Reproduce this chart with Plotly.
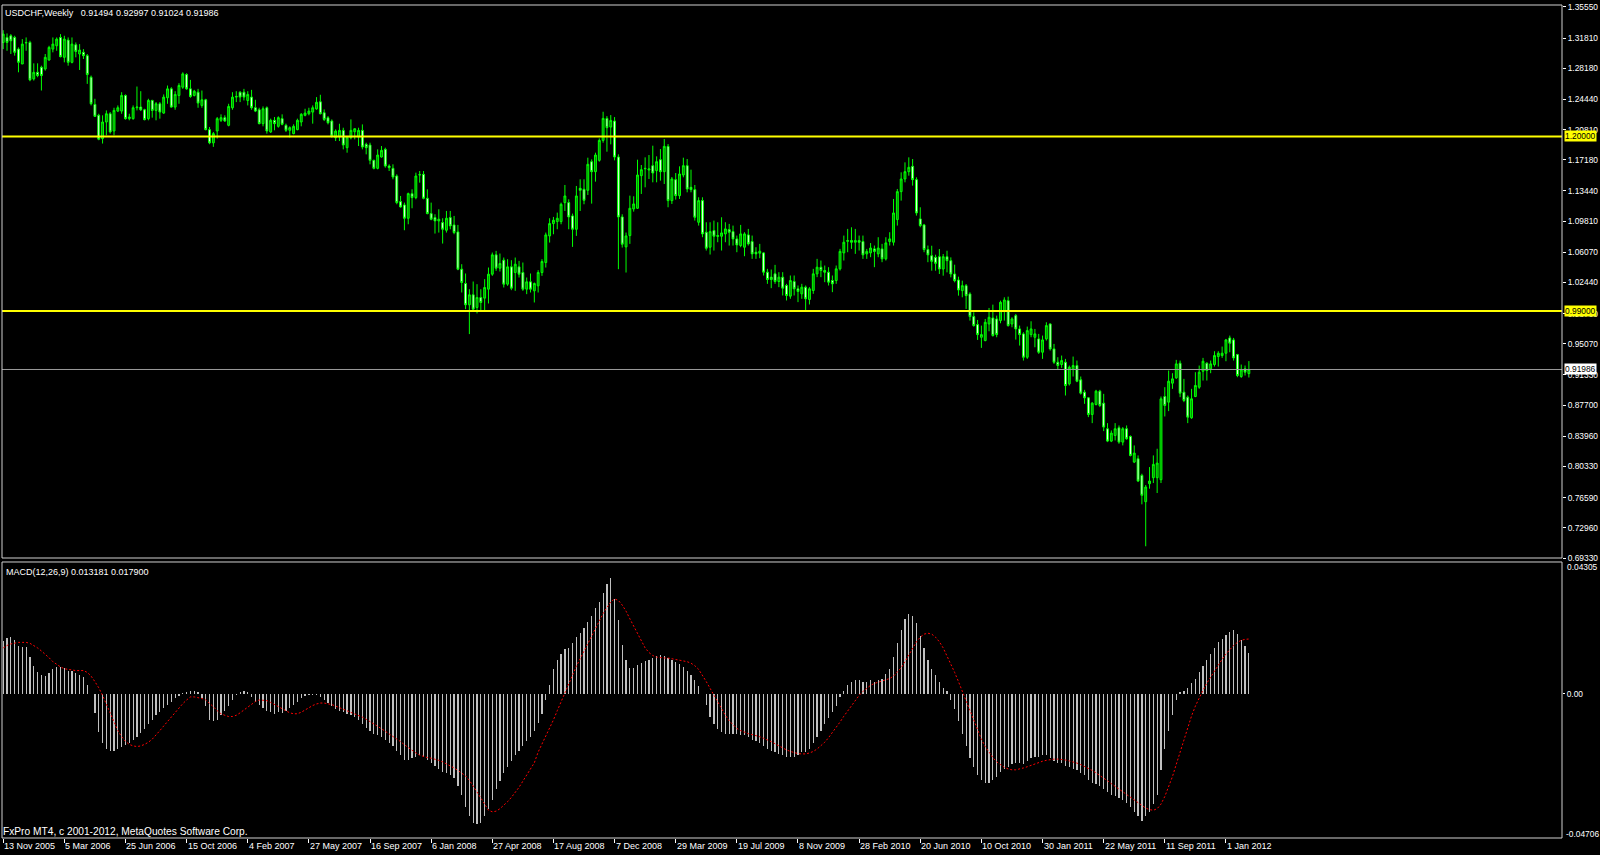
import plotly.graph_objects as go

# ---------------- data (weekly USDCHF, bar 0 = week of 13 Nov 2005) ----------------
OPEN = [
1.3129,1.3189,1.3209,1.3189,1.3049,1.2870,1.3129,1.3129,1.2691,1.2770,
1.2830,1.2810,1.2918,1.3049,1.3089,1.3189,1.2950,1.3157,1.2890,1.3101,
1.2990,1.3010,1.2970,1.2711,1.2384,1.2253,1.1974,1.2173,1.2272,1.2065,
1.2304,1.2304,1.2492,1.2213,1.2213,1.2344,1.2352,1.2320,1.2213,1.2432,
1.2312,1.2392,1.2280,1.2464,1.2571,1.2352,1.2492,1.2591,1.2743,1.2571,
1.2492,1.2531,1.2372,1.2440,1.2081,1.1922,1.2065,1.2193,1.2225,1.2133,
1.2344,1.2472,1.2531,1.2531,1.2432,1.2472,1.2344,1.2320,1.2153,1.2344,
1.2053,1.2193,1.2121,1.2213,1.2133,1.2073,1.2033,1.2081,1.2173,1.2253,
1.2272,1.2292,1.2330,1.2416,1.2284,1.2224,1.2184,1.1984,1.1992,1.2072,
1.1864,1.1984,1.2056,1.1992,1.2072,1.1904,1.1896,1.1712,1.1616,1.1752,
1.1844,1.1644,1.1616,1.1524,1.1216,1.1176,1.1016,1.1312,1.1264,1.1536,
1.1544,1.1256,1.1072,1.1024,1.0984,1.0964,1.0872,1.1024,1.0936,1.0852,
1.0404,1.0232,0.9976,1.0096,0.9944,1.0064,1.0056,1.0164,1.0344,1.0576,
1.0416,1.0512,1.0224,1.0432,1.0364,1.0432,1.0364,1.0164,1.0252,1.0144,
1.0204,1.0364,1.0484,1.0804,1.0952,1.0976,1.0976,1.1204,1.1204,1.1044,
1.0884,1.1376,1.1364,1.1352,1.1696,1.1576,1.1712,1.1952,1.2216,1.2112,
1.2184,1.1752,1.1032,1.0672,1.0808,1.1128,1.1136,1.1528,1.1616,1.1596,
1.1648,1.1588,1.1720,1.1576,1.1880,1.1228,1.1480,1.1288,1.1536,1.1648,
1.1388,1.1360,1.0968,1.1228,1.0848,1.0668,1.0868,1.0808,1.0800,1.0828,
1.0880,1.0856,1.0768,1.0688,1.0668,1.0816,1.0736,1.0608,1.0596,1.0600,
1.0368,1.0308,1.0348,1.0256,1.0308,1.0208,1.0080,1.0256,1.0168,1.0108,
1.0188,1.0040,1.0148,1.0348,1.0428,1.0388,1.0368,1.0268,1.0268,1.0408,
1.0600,1.0738,1.0748,1.0728,1.0748,1.0736,1.0588,1.0600,1.0648,1.0588,
1.0648,1.0528,1.0736,1.0728,1.1000,1.1336,1.1488,1.1576,1.1640,1.1480,
1.1008,1.0936,1.0640,1.0566,1.0546,1.0554,1.0406,1.0554,1.0506,1.0346,
1.0274,1.0146,1.0206,1.0106,0.9834,0.9738,0.9586,0.9546,0.9746,0.9818,
0.9806,0.9786,0.9906,1.0026,0.9746,0.9846,0.9686,0.9626,0.9346,0.9618,
0.9586,0.9566,0.9406,0.9566,0.9746,0.9446,0.9286,0.9258,0.9286,0.9026,
0.9206,0.9246,0.9074,0.8926,0.8858,0.8658,0.8778,0.8938,0.8794,0.8486,
0.8338,0.8406,0.8498,0.8326,0.8486,0.8394,0.8086,0.8126,0.7926,0.7610,
0.7826,0.7898,0.7898,0.7874,0.8874,0.8806,0.9034,0.9098,0.9274,0.8926,
0.8866,0.8618,0.8874,0.8986,0.9178,0.9274,0.9206,0.9258,0.9354,0.9366,
0.9394,0.9578,0.9554,0.9378,0.9114,0.9206,0.91494]
HIGH = [
1.3276,1.3237,1.3229,1.3209,1.3069,1.3169,1.3189,1.3149,1.2878,1.2878,
1.2850,1.2990,1.3089,1.3189,1.3189,1.3229,1.3209,1.3189,1.3189,1.3129,
1.3109,1.3049,1.2990,1.2731,1.2452,1.2272,1.2253,1.2312,1.2292,1.2344,
1.2372,1.2531,1.2504,1.2272,1.2372,1.2599,1.2543,1.2332,1.2452,1.2440,
1.2412,1.2412,1.2504,1.2611,1.2591,1.2543,1.2639,1.2770,1.2759,1.2679,
1.2559,1.2571,1.2551,1.2452,1.2113,1.2053,1.2233,1.2265,1.2253,1.2392,
1.2531,1.2543,1.2543,1.2571,1.2543,1.2559,1.2440,1.2344,1.2360,1.2360,
1.2213,1.2233,1.2241,1.2265,1.2153,1.2121,1.2145,1.2213,1.2280,1.2332,
1.2344,1.2372,1.2472,1.2500,1.2324,1.2244,1.2204,1.2084,1.2152,1.2104,
1.2004,1.2204,1.2096,1.2104,1.2144,1.1924,1.1924,1.1720,1.1844,1.1884,
1.1864,1.1664,1.1664,1.1544,1.1284,1.1204,1.1324,1.1364,1.1564,1.1584,
1.1584,1.1364,1.1204,1.1064,1.1124,1.1016,1.1104,1.1104,1.1044,1.0936,
1.0464,1.0352,1.0164,1.0256,1.0224,1.0164,1.0284,1.0424,1.0604,1.0624,
1.0592,1.0544,1.0524,1.0512,1.0544,1.0504,1.0484,1.0304,1.0352,1.0244,
1.0392,1.0524,1.0844,1.1016,1.1032,1.1084,1.1204,1.1416,1.1244,1.1072,
1.1404,1.1484,1.1484,1.1744,1.1724,1.1804,1.1976,1.2296,1.2244,1.2256,
1.2232,1.1784,1.1064,1.0844,1.1288,1.1280,1.1720,1.1656,1.1748,1.1776,
1.1888,1.1760,1.1848,1.1968,1.1908,1.1512,1.1560,1.1640,1.1744,1.1728,
1.1600,1.1416,1.1268,1.1268,1.0968,1.0968,1.0988,1.0968,1.1028,1.0968,
1.0948,1.0928,1.0808,1.0936,1.0848,1.0888,1.0808,1.0668,1.0708,1.0608,
1.0408,1.0400,1.0456,1.0368,1.0368,1.0228,1.0328,1.0328,1.0208,1.0228,
1.0208,1.0188,1.0408,1.0528,1.0508,1.0448,1.0428,1.0328,1.0448,1.0648,
1.0808,1.0888,1.0908,1.0888,1.0808,1.0808,1.0648,1.0718,1.0688,1.0788,
1.0708,1.0788,1.0848,1.1248,1.1368,1.1568,1.1688,1.1748,1.1728,1.1508,
1.1148,1.0948,1.0688,1.0686,1.0578,1.0646,1.0586,1.0626,1.0546,1.0458,
1.0314,1.0266,1.0226,1.0126,0.9886,0.9794,0.9726,0.9806,0.9938,0.9978,
0.9846,1.0026,1.0066,1.0074,0.9826,0.9866,0.9726,0.9646,0.9714,0.9778,
0.9686,0.9626,0.9606,0.9766,0.9754,0.9506,0.9346,0.9366,0.9326,0.9246,
0.9354,0.9306,0.9114,0.8954,0.8866,0.8806,0.8954,0.8954,0.8906,0.8554,
0.8466,0.8554,0.8526,0.8506,0.8526,0.8406,0.8286,0.8166,0.7946,0.7810,
0.8026,0.8166,0.8246,0.8874,0.8986,0.9186,0.9154,0.9314,0.9306,0.9086,
0.8886,0.8966,0.9166,0.9246,0.9338,0.9286,0.9306,0.9418,0.9418,0.9474,
0.9566,0.9606,0.9578,0.9386,0.9258,0.9246,0.92997]
LOW = [
1.3049,1.3029,1.2990,1.2970,1.2770,1.2870,1.3029,1.2663,1.2671,1.2711,
1.2551,1.2790,1.2910,1.3010,1.3029,1.2950,1.2890,1.2850,1.2878,1.2950,
1.2798,1.2930,1.2631,1.2372,1.2233,1.1954,1.1914,1.2013,1.2033,1.2013,
1.2292,1.2272,1.2201,1.2193,1.2201,1.2312,1.2304,1.2193,1.2193,1.2225,
1.2193,1.2213,1.2272,1.2392,1.2344,1.2320,1.2392,1.2571,1.2559,1.2464,
1.2480,1.2344,1.2344,1.2073,1.1906,1.1874,1.1974,1.2173,1.2173,1.2121,
1.2320,1.2412,1.2412,1.2432,1.2372,1.2320,1.2292,1.2145,1.2121,1.2033,
1.2041,1.2073,1.2105,1.2133,1.2053,1.1986,1.2025,1.2073,1.2121,1.2241,
1.2253,1.2153,1.2320,1.2264,1.2184,1.2144,1.1984,1.1944,1.1944,1.1844,
1.1804,1.1964,1.1964,1.1884,1.1844,1.1784,1.1664,1.1604,1.1604,1.1744,
1.1624,1.1584,1.1484,1.1184,1.1144,1.0872,1.0944,1.1136,1.1244,1.1444,
1.1244,1.1064,1.0992,1.0832,1.0844,1.0712,1.0844,1.0884,1.0824,1.0392,
1.0124,0.9924,0.9624,0.9896,0.9872,0.9896,0.9912,0.9992,1.0324,1.0384,
1.0376,1.0184,1.0204,1.0152,1.0144,1.0304,1.0144,1.0104,1.0124,1.0004,
1.0124,1.0324,1.0424,1.0724,1.0824,1.0884,1.0944,1.1104,1.0884,1.0672,
1.0804,1.1104,1.1184,1.1296,1.1192,1.1456,1.1696,1.1924,1.1816,1.1904,
1.1712,1.0404,1.0664,1.0364,1.0708,1.1096,1.1128,1.1308,1.1388,1.1488,
1.1448,1.1448,1.1468,1.1428,1.1148,1.1188,1.1240,1.1248,1.1508,1.1328,
1.1328,1.0988,1.0928,1.0788,1.0628,1.0580,1.0628,1.0728,1.0628,1.0728,
1.0688,1.0688,1.0608,1.0668,1.0560,1.0688,1.0528,1.0528,1.0536,1.0328,
1.0228,1.0176,1.0228,1.0188,1.0088,1.0028,1.0048,1.0088,1.0008,1.0048,
0.9908,0.9980,1.0108,1.0308,1.0308,1.0248,1.0208,1.0128,1.0228,1.0388,
1.0508,1.0608,1.0648,1.0588,1.0628,1.0528,1.0528,1.0548,1.0428,1.0548,
1.0488,1.0508,1.0688,1.0688,1.0928,1.1228,1.1448,1.1528,1.1408,1.1048,
1.0908,1.0608,1.0488,1.0386,1.0386,1.0346,1.0326,1.0366,1.0306,1.0246,
1.0086,1.0066,0.9926,0.9786,0.9714,0.9554,0.9458,0.9538,0.9658,0.9594,
0.9586,0.9754,0.9786,0.9714,0.9706,0.9558,0.9486,0.9306,0.9326,0.9586,
0.9466,0.9386,0.9326,0.9546,0.9426,0.9266,0.9194,0.9218,0.8886,0.9006,
0.9114,0.9046,0.8898,0.8786,0.8626,0.8554,0.8766,0.8746,0.8458,0.8326,
0.8326,0.8346,0.8306,0.8286,0.8354,0.8154,0.8074,0.7846,0.7578,0.7074,
0.7766,0.7834,0.7714,0.7834,0.8634,0.8698,0.8966,0.9086,0.8866,0.8806,
0.8554,0.8606,0.8866,0.8966,0.9066,0.9066,0.9154,0.9234,0.9234,0.9338,
0.9298,0.9406,0.9306,0.9106,0.9098,0.9126,0.91024]
CLOSE = [
1.3229,1.3129,1.3149,1.3010,1.2890,1.3109,1.3125,1.2679,1.2770,1.2731,
1.2731,1.2950,1.3069,1.3109,1.3169,1.2958,1.3169,1.2890,1.3109,1.3021,
1.3037,1.2970,1.2743,1.2392,1.2241,1.1966,1.2173,1.2272,1.2053,1.2312,
1.2344,1.2492,1.2213,1.2233,1.2344,1.2352,1.2320,1.2201,1.2432,1.2312,
1.2392,1.2292,1.2472,1.2571,1.2352,1.2504,1.2611,1.2751,1.2571,1.2480,
1.2543,1.2400,1.2440,1.2081,1.1922,1.2033,1.2213,1.2225,1.2185,1.2360,
1.2472,1.2480,1.2472,1.2472,1.2504,1.2344,1.2304,1.2153,1.2332,1.2065,
1.2193,1.2153,1.2225,1.2145,1.2073,1.2105,1.2121,1.2193,1.2265,1.2280,
1.2304,1.2344,1.2410,1.2272,1.2204,1.2164,1.2004,1.2064,1.2072,1.1896,
1.1992,1.2072,1.2092,1.2072,1.1872,1.1864,1.1712,1.1616,1.1776,1.1832,
1.1644,1.1624,1.1512,1.1204,1.1152,1.1016,1.1312,1.1264,1.1524,1.1540,
1.1256,1.1072,1.1004,1.0984,1.1004,1.0884,1.1016,1.0924,1.0844,1.0404,
1.0244,0.9976,1.0096,0.9924,1.0064,1.0004,1.0184,1.0344,1.0576,1.0416,
1.0472,1.0224,1.0432,1.0176,1.0464,1.0344,1.0164,1.0252,1.0164,1.0232,
1.0364,1.0496,1.0816,1.0952,1.0992,1.1016,1.1184,1.1284,1.1032,1.0884,
1.1284,1.1352,1.1232,1.1664,1.1576,1.1776,1.1952,1.2216,1.2104,1.2192,
1.1752,1.1032,1.0704,1.0804,1.1136,1.1188,1.1536,1.1600,1.1612,1.1608,
1.1560,1.1696,1.1576,1.1880,1.1228,1.1488,1.1288,1.1548,1.1648,1.1368,
1.1360,1.1028,1.1228,1.0828,1.0656,1.0856,1.0800,1.0800,1.0840,1.0888,
1.0848,1.0768,1.0696,1.0828,1.0828,1.0708,1.0588,1.0588,1.0620,1.0368,
1.0280,1.0280,1.0256,1.0308,1.0176,1.0088,1.0268,1.0168,1.0136,1.0188,
1.0048,1.0168,1.0348,1.0428,1.0388,1.0368,1.0248,1.0228,1.0408,1.0618,
1.0728,1.0748,1.0728,1.0748,1.0728,1.0576,1.0618,1.0658,1.0618,1.0658,
1.0528,1.0720,1.0768,1.1080,1.1336,1.1488,1.1576,1.1628,1.1480,1.1080,
1.0928,1.0640,1.0576,1.0498,1.0474,1.0406,1.0554,1.0506,1.0346,1.0266,
1.0154,1.0206,1.0086,0.9834,0.9726,0.9618,0.9618,0.9766,0.9826,0.9606,
0.9618,1.0006,1.0034,0.9726,0.9806,0.9686,0.9618,0.9346,0.9666,0.9686,
0.9626,0.9406,0.9554,0.9726,0.9446,0.9286,0.9246,0.9306,0.9006,0.9226,
0.9246,0.9058,0.8914,0.8858,0.8658,0.8794,0.8938,0.8766,0.8506,0.8338,
0.8434,0.8486,0.8326,0.8486,0.8366,0.8166,0.8194,0.7858,0.7686,0.7786,
0.7858,0.8058,0.8074,0.8846,0.8766,0.9058,0.9086,0.9266,0.8914,0.8826,
0.8626,0.8846,0.9006,0.9166,0.9298,0.9186,0.9266,0.9366,0.9394,0.9394,
0.9554,0.9514,0.9338,0.9126,0.9194,0.9166,0.91986]

MACD_MAIN = [
0.0173,0.0182,0.0184,0.0177,0.0157,0.0154,0.0154,0.0119,0.0092,0.0070,
0.0062,0.0059,0.0068,0.0081,0.0089,0.0087,0.0085,0.0073,0.0076,0.0068,
0.0063,0.0056,0.0030,0.0000,-0.0063,-0.0125,-0.0160,-0.0180,-0.0188,-0.0185,
-0.0180,-0.0175,-0.0168,-0.0160,-0.0150,-0.0140,-0.0128,-0.0115,-0.0100,-0.0085,
-0.0070,-0.0058,-0.0045,-0.0035,-0.0025,-0.0015,-0.0008,0.0003,0.0005,0.0008,
0.0010,0.0005,-0.0015,-0.0040,-0.0085,-0.0090,-0.0085,-0.0070,-0.0055,-0.0040,
-0.0020,-0.0005,0.0005,0.0008,0.0005,-0.0010,-0.0025,-0.0035,-0.0045,-0.0055,
-0.0060,-0.0065,-0.0060,-0.0062,-0.0055,-0.0045,-0.0035,-0.0025,-0.0015,-0.0008,
-0.0005,-0.0003,-0.0005,-0.0010,-0.0020,-0.0030,-0.0040,-0.0050,-0.0055,-0.0060,
-0.0065,-0.0070,-0.0075,-0.0085,-0.0100,-0.0110,-0.0120,-0.0130,-0.0135,-0.0140,
-0.0150,-0.0160,-0.0170,-0.0185,-0.0200,-0.0215,-0.0215,-0.0210,-0.0205,-0.0200,
-0.0205,-0.0215,-0.0225,-0.0235,-0.0245,-0.0255,-0.0260,-0.0265,-0.0275,-0.0300,
-0.0330,-0.0370,-0.0400,-0.0420,-0.0425,-0.0420,-0.0400,-0.0375,-0.0345,-0.0310,
-0.0285,-0.0260,-0.0240,-0.0220,-0.0200,-0.0185,-0.0170,-0.0155,-0.0140,-0.0120,
-0.0095,-0.0065,-0.0020,0.0030,0.0080,0.0110,0.0130,0.0145,0.0150,0.0165,
0.0185,0.0200,0.0215,0.0235,0.0255,0.0280,0.0300,0.0330,0.0360,0.0377,
0.0310,0.0240,0.0160,0.0110,0.0085,0.0085,0.0095,0.0100,0.0108,0.0112,
0.0118,0.0122,0.0128,0.0125,0.0118,0.0112,0.0105,0.0098,0.0088,0.0075,
0.0062,0.0045,0.0025,0.0000,-0.0035,-0.0075,-0.0100,-0.0115,-0.0125,-0.0130,
-0.0130,-0.0130,-0.0132,-0.0135,-0.0135,-0.0140,-0.0150,-0.0155,-0.0160,-0.0170,
-0.0180,-0.0185,-0.0190,-0.0195,-0.0200,-0.0205,-0.0205,-0.0205,-0.0200,-0.0190,
-0.0190,-0.0180,-0.0160,-0.0140,-0.0120,-0.0100,-0.0080,-0.0060,-0.0040,-0.0010,
0.0010,0.0030,0.0040,0.0045,0.0045,0.0040,0.0040,0.0045,0.0040,0.0045,
0.0050,0.0065,0.0080,0.0120,0.0165,0.0210,0.0245,0.0262,0.0255,0.0230,
0.0190,0.0150,0.0110,0.0080,0.0060,0.0040,0.0020,0.0010,-0.0020,-0.0050,
-0.0090,-0.0130,-0.0170,-0.0210,-0.0240,-0.0265,-0.0280,-0.0290,-0.0290,-0.0280,
-0.0270,-0.0255,-0.0245,-0.0240,-0.0230,-0.0225,-0.0225,-0.0230,-0.0220,-0.0210,
-0.0205,-0.0205,-0.0200,-0.0200,-0.0210,-0.0220,-0.0225,-0.0225,-0.0235,-0.0240,
-0.0245,-0.0250,-0.0260,-0.0265,-0.0280,-0.0290,-0.0295,-0.0300,-0.0310,-0.0320,
-0.0330,-0.0335,-0.0340,-0.0345,-0.0355,-0.0370,-0.0385,-0.0400,-0.0415,-0.0400,
-0.0385,-0.0360,-0.0330,-0.0250,-0.0180,-0.0120,-0.0070,-0.0020,0.0005,0.0010,
0.0020,0.0035,0.0050,0.0070,0.0090,0.0110,0.0130,0.0150,0.0168,0.0180,
0.0192,0.0203,0.0208,0.0195,0.0175,0.0155,0.013181]
MACD_SIGNAL = [
0.0150,0.0158,0.0163,0.0166,0.0168,0.0168,0.0168,0.0165,0.0158,0.0150,
0.0140,0.0130,0.0118,0.0105,0.0095,0.0088,0.0082,0.0080,0.0077,0.0076,
0.0076,0.0076,0.0070,0.0058,0.0040,0.0020,-0.0005,-0.0035,-0.0065,-0.0095,
-0.0120,-0.0140,-0.0155,-0.0165,-0.0170,-0.0172,-0.0170,-0.0165,-0.0158,-0.0148,
-0.0135,-0.0120,-0.0105,-0.0090,-0.0075,-0.0060,-0.0045,-0.0032,-0.0020,-0.0010,
-0.0010,-0.0012,-0.0015,-0.0020,-0.0030,-0.0042,-0.0055,-0.0065,-0.0070,-0.0074,
-0.0074,-0.0070,-0.0062,-0.0052,-0.0042,-0.0032,-0.0025,-0.0020,-0.0020,-0.0022,
-0.0028,-0.0035,-0.0042,-0.0050,-0.0057,-0.0062,-0.0065,-0.0065,-0.0060,-0.0052,
-0.0045,-0.0038,-0.0033,-0.0030,-0.0030,-0.0032,-0.0035,-0.0040,-0.0045,-0.0050,
-0.0055,-0.0060,-0.0065,-0.0070,-0.0076,-0.0083,-0.0090,-0.0098,-0.0106,-0.0114,
-0.0122,-0.0130,-0.0138,-0.0147,-0.0156,-0.0166,-0.0176,-0.0185,-0.0193,-0.0200,
-0.0205,-0.0208,-0.0210,-0.0213,-0.0217,-0.0222,-0.0228,-0.0235,-0.0242,-0.0250,
-0.0258,-0.0268,-0.0282,-0.0300,-0.0320,-0.0340,-0.0360,-0.0380,-0.0385,-0.0383,
-0.0375,-0.0365,-0.0352,-0.0338,-0.0322,-0.0305,-0.0285,-0.0265,-0.0245,-0.0225,
-0.0190,-0.0165,-0.0140,-0.0115,-0.0085,-0.0055,-0.0025,0.0005,0.0035,0.0065,
0.0090,0.0115,0.0140,0.0165,0.0190,0.0215,0.0240,0.0262,0.0282,0.0300,
0.0310,0.0305,0.0290,0.0270,0.0245,0.0220,0.0195,0.0170,0.0150,0.0135,
0.0125,0.0120,0.0118,0.0117,0.0117,0.0115,0.0112,0.0110,0.0108,0.0105,
0.0100,0.0092,0.0080,0.0062,0.0040,0.0018,-0.0005,-0.0028,-0.0050,-0.0070,
-0.0088,-0.0102,-0.0113,-0.0120,-0.0126,-0.0130,-0.0133,-0.0136,-0.0140,-0.0145,
-0.0150,-0.0156,-0.0163,-0.0170,-0.0177,-0.0183,-0.0188,-0.0192,-0.0195,-0.0196,
-0.0196,-0.0193,-0.0188,-0.0180,-0.0170,-0.0158,-0.0143,-0.0127,-0.0110,-0.0092,
-0.0073,-0.0055,-0.0037,-0.0020,-0.0005,0.0008,0.0018,0.0028,0.0034,0.0038,
0.0042,0.0045,0.0050,0.0058,0.0070,0.0085,0.0105,0.0128,0.0150,0.0170,
0.0185,0.0195,0.0198,0.0195,0.0185,0.0170,0.0150,0.0125,0.0098,0.0070,
0.0040,0.0008,-0.0025,-0.0058,-0.0090,-0.0120,-0.0148,-0.0172,-0.0192,-0.0208,
-0.0222,-0.0232,-0.0240,-0.0245,-0.0248,-0.0248,-0.0246,-0.0242,-0.0238,-0.0233,
-0.0228,-0.0224,-0.0220,-0.0217,-0.0214,-0.0213,-0.0213,-0.0214,-0.0216,-0.0219,
-0.0222,-0.0226,-0.0231,-0.0237,-0.0243,-0.0250,-0.0258,-0.0266,-0.0275,-0.0284,
-0.0293,-0.0302,-0.0311,-0.0320,-0.0328,-0.0336,-0.0345,-0.0355,-0.0365,-0.0373,
-0.0378,-0.0380,-0.0375,-0.0360,-0.0335,-0.0305,-0.0270,-0.0230,-0.0190,-0.0150,
-0.0110,-0.0072,-0.0040,-0.0012,0.0012,0.0035,0.0055,0.0075,0.0095,0.0113,
0.0130,0.0145,0.0158,0.0168,0.0175,0.0178,0.017900]

DATE_TICK_BARS = [0, 16, 32, 48, 64, 80, 96, 112, 128, 144, 160, 176, 192, 208, 224, 240, 256, 272, 288, 304, 320]
DATE_LABELS = ["13 Nov 2005", "5 Mar 2006", "25 Jun 2006", "15 Oct 2006", "4 Feb 2007", "27 May 2007",
               "16 Sep 2007", "6 Jan 2008", "27 Apr 2008", "17 Aug 2008", "7 Dec 2008", "29 Mar 2009",
               "19 Jul 2009", "8 Nov 2009", "28 Feb 2010", "20 Jun 2010", "10 Oct 2010", "30 Jan 2011",
               "22 May 2011", "11 Sep 2011", "1 Jan 2012"]
PRICE_TICKS = [1.35550, 1.31810, 1.28180, 1.24440, 1.20810, 1.17180, 1.13440, 1.09810, 1.06070,
               1.02440, 0.98700, 0.95070, 0.91330, 0.87700, 0.83960, 0.80330, 0.76590, 0.72960, 0.69330]
HLINE_LEVELS = [1.20000, 0.99000]
LAST_CLOSE = 0.91986
MACD_MAX, MACD_MIN = 0.04305, -0.04706
SYMBOL_TITLE = "USDCHF,Weekly"
MACD_TITLE = "MACD(12,26,9) 0.013181 0.017900"
FOOTER = "FxPro MT4, c 2001-2012, MetaQuotes Software Corp."

# ---------------- figure ----------------
W, H = 1600, 855
ML, MR, MT, MB = 2, 36, 2, 17
PLOT_H = H - MT - MB
def py(pix):  # pixel row -> paper y
    return (H - MB - pix) / PLOT_H

FONT = "Liberation Sans, Arial, sans-serif"
FG = "#ffffff"
AX = 8.4
bars = list(range(len(CLOSE)))

fig = go.Figure()
fig.add_trace(go.Candlestick(
    x=bars, open=OPEN, high=HIGH, low=LOW, close=CLOSE, xaxis="x", yaxis="y",
    increasing=dict(line=dict(color="#00ff00", width=1), fillcolor="#008c00"),
    decreasing=dict(line=dict(color="#00ff00", width=1), fillcolor="#ffffff"),
    whiskerwidth=0, hoverinfo="skip", showlegend=False))
fig.add_trace(go.Bar(
    x=bars, y=MACD_MAIN, xaxis="x", yaxis="y2", width=0.32,
    marker=dict(color="#c0c0c0", line=dict(width=0)), hoverinfo="skip", showlegend=False))
fig.add_trace(go.Scatter(
    x=bars, y=MACD_SIGNAL, xaxis="x", yaxis="y2", mode="lines",
    line=dict(color="#ff0000", width=1, dash="2px,2px"), hoverinfo="skip", showlegend=False))

main_bottom = py(557)
macd_top = py(561)
px_per_bar = 3.826
x0 = -(3.2 - ML) / px_per_bar
x1 = (W - MR - 3.2) / px_per_bar

shapes = []
for lvl in HLINE_LEVELS:
    shapes.append(dict(type="line", xref="paper", x0=0, x1=1, yref="y", y0=lvl, y1=lvl,
                       line=dict(color="#ffff00", width=2), layer="above"))
shapes.append(dict(type="line", xref="paper", x0=0, x1=1, yref="y", y0=LAST_CLOSE, y1=LAST_CLOSE,
                   line=dict(color="#9a9a9a", width=1), layer="above"))
shapes.append(dict(type="rect", xref="paper", yref="paper", x0=0, x1=1, y0=main_bottom, y1=1,
                   line=dict(color="#d0d0d0", width=1), fillcolor="rgba(0,0,0,0)", layer="above"))
shapes.append(dict(type="rect", xref="paper", yref="paper", x0=0, x1=1, y0=0, y1=macd_top,
                   line=dict(color="#d0d0d0", width=1), fillcolor="rgba(0,0,0,0)", layer="above"))

ann = []
header = SYMBOL_TITLE + "\u00a0\u00a0 " + " ".join(f"{v:.5f}" for v in (OPEN[-1], HIGH[-1], LOW[-1], CLOSE[-1]))
ann.append(dict(text=header, xref="paper", yref="paper", x=0, y=py(10), xanchor="left", yanchor="middle",
                xshift=1, showarrow=False, font=dict(family=FONT, size=9, color=FG)))
ann.append(dict(text=MACD_TITLE, xref="paper", yref="paper", x=0, y=py(571), xanchor="left",
                yanchor="middle", xshift=2, showarrow=False, font=dict(family=FONT, size=9, color=FG)))
ann.append(dict(text=FOOTER, xref="paper", yref="paper", x=0, y=py(831), xanchor="left",
                yanchor="middle", xshift=-1, showarrow=False, font=dict(family=FONT, size=10.2, color=FG)))
for b, lab in zip(DATE_TICK_BARS, DATE_LABELS):
    ann.append(dict(text=lab, xref="x", yref="paper", x=b, y=py(846), xanchor="left", yanchor="middle",
                    xshift=-1, showarrow=False, font=dict(family=FONT, size=9, color=FG)))
for lvl in HLINE_LEVELS:
    ann.append(dict(text=f"{lvl:.5f}", xref="paper", yref="y", x=1, y=lvl, xanchor="left", yanchor="middle",
                    xshift=2, showarrow=False, bgcolor="#ffff00", borderpad=0,
                    font=dict(family=FONT, size=AX, color="#000000")))
ann.append(dict(text=f"{LAST_CLOSE:.5f}", xref="paper", yref="y", x=1, y=LAST_CLOSE, xanchor="left",
                yanchor="middle", xshift=2, showarrow=False, bgcolor="#ffffff", borderpad=0,
                font=dict(family=FONT, size=AX, color="#000000")))
ann.append(dict(text=f"{MACD_MAX:.5f}", xref="paper", yref="paper", x=1, y=py(566), xanchor="left",
                yanchor="middle", xshift=3, showarrow=False, font=dict(family=FONT, size=AX, color=FG)))
ann.append(dict(text=f"{MACD_MIN:.5f}", xref="paper", yref="paper", x=1, y=py(834), xanchor="left",
                yanchor="middle", xshift=2, showarrow=False, font=dict(family=FONT, size=AX, color=FG)))

fig.update_layout(
    width=W, height=H, margin=dict(l=ML, r=MR, t=MT, b=MB),
    paper_bgcolor="#000000", plot_bgcolor="#000000",
    hovermode=False, showlegend=False, bargap=0,
    xaxis=dict(range=[x0, x1], anchor="y2", showgrid=False, zeroline=False, showline=False,
               tickvals=DATE_TICK_BARS, ticks="outside", ticklen=4, tickcolor=FG, tickwidth=1,
               showticklabels=False, rangeslider=dict(visible=False), fixedrange=True),
    yaxis=dict(domain=[main_bottom, 1], range=[PRICE_TICKS[-1], PRICE_TICKS[0] + 2 * 0.001197],
               side="right", anchor="x", showgrid=False, zeroline=False, showline=False,
               tickvals=PRICE_TICKS, ticktext=[f"{v:.5f}" for v in PRICE_TICKS],
               ticks="outside", ticklen=3, tickcolor=FG, tickwidth=1, ticklabeloverflow="allow",
               tickfont=dict(family=FONT, size=AX, color=FG)),
    yaxis2=dict(domain=[0, macd_top], range=[MACD_MIN, MACD_MAX], side="right", anchor="x",
                showgrid=False, zeroline=False, showline=False,
                tickvals=[0], ticktext=["0.00"], ticks="outside", ticklen=2, tickcolor=FG,
                tickfont=dict(family=FONT, size=AX, color=FG)),
    shapes=shapes, annotations=ann,
)
fig.write_html("out.html", config={"displayModeBar": False, "staticPlot": True},
               post_script="document.body.style.margin='0';document.body.style.padding='0';"
                           "document.body.style.overflow='hidden';document.body.style.background='#000';")
